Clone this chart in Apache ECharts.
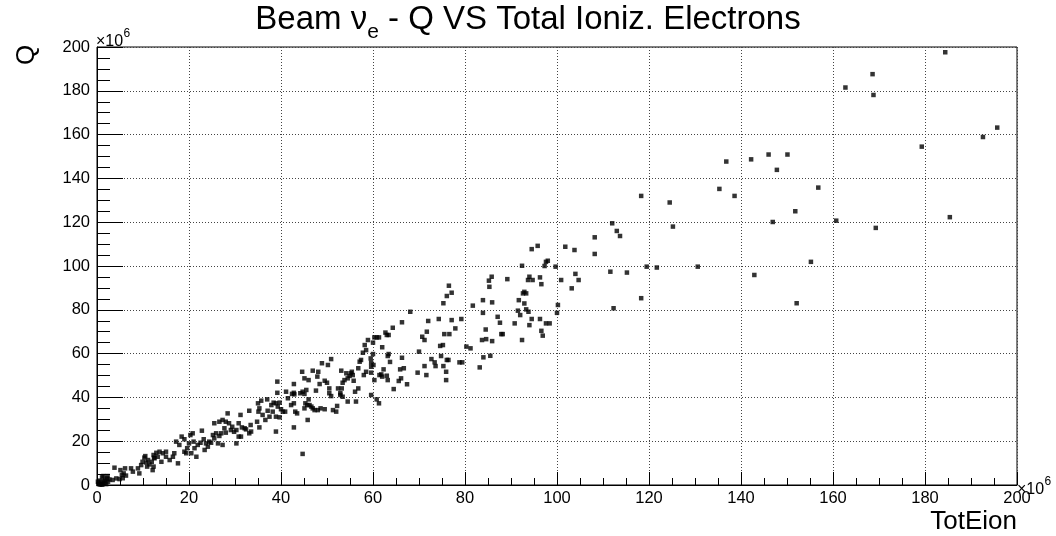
<!DOCTYPE html>
<html><head><meta charset="utf-8">
<script src="https://cdn.jsdelivr.net/npm/echarts@6/dist/echarts.min.js"></script>
<style>html,body{margin:0;padding:0;background:#fff}#c{width:1056px;height:536px}</style>
</head><body><div id="c"></div><script>
// Values in units of 10^6: [TotEion, Q]
const ptsLow = [[0.3,0.5],[0.8,1.2],[1.2,0.3],[1.6,1.0],[2.0,0.4],[0.5,2.0],[1.0,0.1],[2.4,1.5],[1.8,2.3],[0.2,1.5],[1.4,1.8],[2.7,2.5],[1.1,3.5],[2.2,3.0],[0.6,0.2],[1.4,4.1],[2.3,4.1],
[3.4,2.3],[4.2,3.0],[4.9,2.7],[3.8,7.9],[5.4,4.6],[5.8,5.3],[6.3,4.3],[5.1,6.8],[6.1,7.6],[7.4,7.6],[7.8,6.1],[8.9,7.6],[9.2,5.3],[9.6,9.1],[9.9,10.6],[10.7,10.3],[10.9,8.4],[11.1,11.4],[10.3,12.5],[11.4,9.4],[11.9,10.6],[12.4,12.5],[12.1,6.8],[10.5,13.2],[5.6,3.1]];
const pts12to30 = [[12.3,13.7],[12.9,14.7],[13.2,12.9],[13.6,15.2],[14.3,14.5],[15.0,15.2],[12.5,12.2],[12.3,8.4],[14.0,10.6],[15.0,12.9],[15.8,11.4],[16.5,12.9],[16.8,14.5],[17.6,9.9],[17.2,19.8],[17.9,18.3],[18.4,22.1],[19.0,20.9],[19.0,15.2],[19.6,16.8],[20.0,19.0],[20.3,22.8],[20.8,23.6],[21.0,19.8],[20.5,14.5],[19.4,14.5],[21.2,16.8],[21.6,12.9],[21.9,18.3],[22.5,19.3],[22.8,24.8],[23.2,20.9],[23.4,16.0],[23.7,19.0],[24.4,19.8],[24.1,17.5],[24.8,19.3],[25.2,22.8],[25.5,21.3],[25.9,23.6],[26.3,19.0],[26.6,22.4],[27.0,23.6],[27.3,18.3],[27.7,25.9],[28.0,23.9],[28.4,32.7],[28.0,28.9],[28.7,28.2],[29.1,25.1],[29.4,26.6],[29.8,24.3],[25.5,28.2],[26.6,28.9],[27.3,29.7]];
const pts30to60 = [[30.3,25.1],[30.3,19.0],[30.8,28.2],[31.2,32.0],[31.5,26.3],[32.1,25.9],[32.4,25.4],[30.8,22.1],[31.3,22.1],[33.1,33.9],[33.1,23.6],[33.5,24.4],[33.4,27.4],[34.8,28.9],[35.3,26.3],[35.0,37.3],[35.3,35.0],[35.7,38.5],[35.1,33.5],[36.0,32.0],[36.6,29.7],[37.0,39.1],[37.1,33.9],[37.5,31.2],[37.9,36.5],[38.4,37.6],[38.9,37.3],[39.7,37.6],[39.3,35.8],[38.2,33.5],[38.9,31.2],[39.7,30.9],[38.9,24.4],[39.2,47.2],[39.2,42.1],[40.0,34.6],[40.4,33.5],[40.9,33.5],[41.1,42.6],[41.5,39.6],[42.2,36.5],[42.8,37.3],[42.4,41.6],[42.8,42.1],[42.9,41.4],[42.8,46.1],[42.8,26.3],[43.1,33.5],[43.5,32.7],[44.2,41.9],[44.7,42.6],[45.1,41.6],[45.5,43.4],[44.6,51.7],[45.1,48.7],[45.3,37.3],[45.7,36.5],[46.0,39.1],[46.2,36.5],[46.6,35.8],[46.9,35.0],[47.3,34.2],[45.1,35.0],[45.8,29.7],[46.0,47.9],[46.9,52.2],[47.6,43.1],[47.9,49.5],[48.1,51.7],[48.0,34.2],[48.6,35.0],[49.5,34.6],[48.4,46.1],[48.9,55.6],[50.2,54.8],[50.9,57.5],[49.5,47.6],[50.0,46.7],[50.5,44.1],[50.5,41.9],[50.9,40.6],[51.3,34.2],[52.0,33.5],[52.2,36.1],[52.4,44.1],[52.9,41.9],[53.2,44.1],[53.1,52.2],[53.4,46.7],[53.8,47.9],[54.2,51.0],[54.5,48.7],[54.9,49.8],[55.2,51.0],[55.4,51.7],[55.6,50.2],[52.9,41.1],[53.4,40.3],[54.5,38.1],[55.8,47.6],[56.1,42.6],[56.8,44.1],[56.3,38.1],[57.1,56.3],[57.4,57.1],[57.8,60.4],[58.2,63.9],[58.5,61.6],[58.9,66.2],[56.8,53.3],[58.0,50.2],[58.5,51.7],[44.7,14.2],[59.5,57.8]];
const pts60to83 = [[76.5,91.0],[77.1,87.8],[76.05,86.3],[75.3,83.0],[81.7,81.9],[68.1,79.1],[66.3,74.3],[64.3,71.8],[62.7,69.6],[63.0,68.5],[63.4,68.5],[60.3,67.4],[60.8,67.4],[61.3,67.4],[60.0,65.0],[62.0,62.9],[72.0,74.9],[74.3,75.8],[77.1,75.3],[79.2,75.8],[77.9,71.5],[71.7,70.0],[70.7,67.7],[71.2,66.2],[75.5,68.9],[76.6,68.9],[74.6,63.5],[75.2,63.9],[70.0,60.9],[80.3,63.2],[81.2,62.4],[60.0,59.8],[63.4,59.8],[63.2,58.9],[66.3,58.1],[63.7,56.2],[72.7,57.5],[73.4,56.0],[73.6,54.3],[74.8,58.9],[76.05,57.1],[76.4,57.1],[78.8,56.0],[79.4,56.0],[83.2,53.7],[59.6,55.9],[59.6,54.0],[60.1,54.8],[62.3,52.8],[65.9,52.8],[66.7,53.3],[71.2,54.3],[75.3,54.3],[75.9,51.7],[59.6,51.3],[61.4,50.2],[62.0,49.5],[61.8,50.5],[63.0,49.9],[60.3,47.9],[63.2,47.9],[66.1,48.7],[65.6,47.5],[67.4,46.0],[69.7,51.3],[71.6,50.2],[75.9,47.9],[64.5,43.8],[59.6,41.1],[60.8,39.1],[61.3,37.3]];
const pts83to105 = [[94.5,107.7],[95.8,109.2],[92.4,100.1],[97.3,100.0],[97.6,101.9],[98.0,102.4],[99.7,99.7],[101.8,108.8],[103.8,107.3],[100.9,93.6],[103.2,89.8],[104.7,93.6],[104.0,96.4],[85.2,93.3],[85.8,95.1],[85.3,90.5],[89.2,94.0],[93.7,93.6],[94.0,95.1],[94.7,93.6],[96.3,94.8],[96.6,91.7],[83.9,84.4],[85.9,83.4],[91.7,84.4],[92.6,87.5],[92.9,88.2],[93.3,87.5],[92.9,82.9],[93.3,80.2],[91.5,79.6],[92.0,77.6],[93.8,79.1],[100.2,82.2],[100.0,78.6],[87.1,76.8],[87.6,74.1],[83.9,78.6],[90.8,73.8],[94.5,75.8],[96.3,75.8],[94.0,73.0],[97.6,73.8],[98.4,73.8],[84.5,71.0],[87.9,68.9],[88.2,68.9],[83.7,66.2],[84.6,66.6],[85.9,65.7],[96.6,70.4],[96.9,68.2],[92.4,66.2],[84.0,58.3],[85.5,59.0]];
const ptsHigh = [[136.8,147.7],[142.2,148.7],[135.3,135.2],[138.6,132.0],[118.3,132.0],[124.5,129.0],[125.2,118.0],[112.0,119.5],[113.0,116.0],[113.7,113.7],[108.2,113.1],[108.2,105.5],[111.6,97.4],[115.2,97.0],[119.5,99.7],[121.7,99.3],[130.6,99.7],[142.9,95.9],[118.3,85.3],[112.3,80.7],
[184.4,197.6],[168.6,187.6],[162.7,181.5],[168.8,178.1],[195.7,163.2],[192.6,158.9],[179.3,154.5],[146.0,150.9],[150.1,150.9],[147.8,143.9],[156.8,135.8],[151.8,125.0],[146.9,120.1],[160.7,120.7],[185.4,122.3],[169.3,117.4],[155.2,101.9],[152.1,83.0]];

const allPoints = [].concat(ptsLow, pts12to30, pts30to60, pts60to83, pts83to105, ptsHigh);

const FONT = '"Liberation Sans", Arial, Helvetica, sans-serif';
const chart = echarts.init(document.getElementById('c'), null, {renderer: 'canvas'});
const gridLine = {show: true, lineStyle: {color: '#444', width: 1, type: [1, 2]}};
chart.setOption({
  animation: false,
  backgroundColor: '#fff',
  title: {
    text: 'Beam ν{sub|e} - Q VS Total Ioniz. Electrons',
    left: 'center', top: 0, padding: 0,
    textStyle: {fontFamily: FONT, fontSize: 33, fontWeight: 'normal', color: '#000', lineHeight: 40,
      rich: {sub: {fontFamily: FONT, fontSize: 21, color: '#000', lineHeight: 40, padding: [24, 0, 0, 0]}}}
  },
  grid: {left: 97, right: 39, top: 47, bottom: 51, show: true, borderColor: '#000', borderWidth: 1, backgroundColor: 'transparent'},
  xAxis: {
    type: 'value', min: 0, max: 200, interval: 20,
    axisLine: {show: true, lineStyle: {color: '#000', width: 1}},
    axisTick: {show: true, inside: true, length: 13, lineStyle: {color: '#000'}},
    minorTick: {show: true, splitNumber: 4, length: 7, lineStyle: {color: '#000'}},
    splitLine: gridLine,
    axisLabel: {color: '#000', fontFamily: FONT, fontSize: 16.5, margin: 5}
  },
  yAxis: {
    type: 'value', min: 0, max: 200, interval: 20,
    axisLine: {show: true, lineStyle: {color: '#000', width: 1}},
    axisTick: {show: true, inside: true, length: 26, lineStyle: {color: '#000'}},
    minorTick: {show: true, splitNumber: 4, length: 13, lineStyle: {color: '#000'}},
    splitLine: gridLine,
    axisLabel: {color: '#000', fontFamily: FONT, fontSize: 16.5, margin: 7}
  },
  series: [{
    type: 'scatter', data: allPoints, symbol: 'rect', symbolSize: 4.5,
    itemStyle: {color: '#000'}, silent: true
  }],
  graphic: [
    {type: 'text', x: 26.5, y: 55, rotation: Math.PI / 2,
     style: {text: 'Q', fontFamily: FONT, fontSize: 26, fill: '#000', align: 'center', verticalAlign: 'middle'}},
    {type: 'text', x: 1017, y: 522,
     style: {text: 'TotEion', fontFamily: FONT, fontSize: 26, fill: '#000', align: 'right', verticalAlign: 'middle'}},
    {type: 'text', x: 96, y: 41.5,
     style: {text: '×10', fontFamily: FONT, fontSize: 16, fill: '#000', align: 'left', verticalAlign: 'middle'}},
    {type: 'text', x: 123.5, y: 33.5,
     style: {text: '6', fontFamily: FONT, fontSize: 12, fill: '#000', align: 'left', verticalAlign: 'middle'}},
    {type: 'text', x: 1017, y: 489.5,
     style: {text: '×10', fontFamily: FONT, fontSize: 16, fill: '#000', align: 'left', verticalAlign: 'middle'}},
    {type: 'text', x: 1044.5, y: 482,
     style: {text: '6', fontFamily: FONT, fontSize: 12, fill: '#000', align: 'left', verticalAlign: 'middle'}}
  ]
});
</script></body></html>
